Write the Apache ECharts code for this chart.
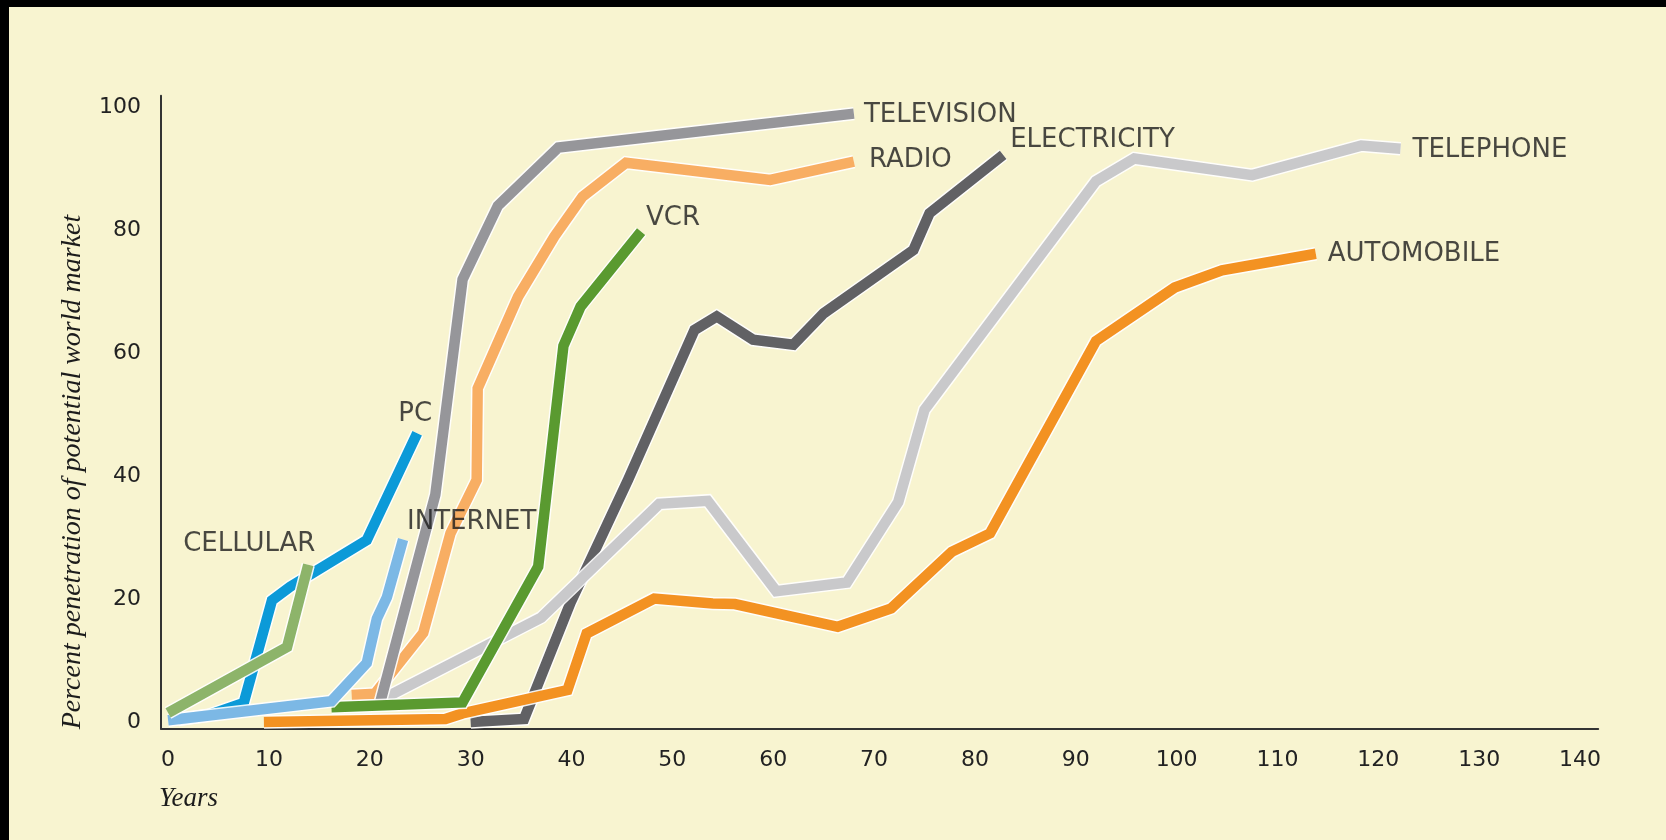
<!DOCTYPE html>
<html>
<head>
<meta charset="utf-8">
<script src="https://cdn.jsdelivr.net/npm/echarts@6/dist/echarts.min.js"></script>
<style>
html,body{margin:0;padding:0;background:#000;}
#chart{width:1666px;height:840px;}
</style>
</head>
<body>
<div id="chart"></div>
<script>
// ---- data (years since introduction, percent penetration) ----
const electricity = [[30,0],[35.3,0.5],[39.9,19.4],[45.6,39.4],[52.2,63.8],[54.4,66],[58,62.2],[62,61.4],[65,66.5],[73.9,76.8],[75.5,82.8],[82.8,92.3]];
const automobile = [[9.5,0],[27.5,0.5],[29.2,1.4],[39.6,5.2],[41.5,14.4],[48.2,20.1],[54,19.3],[56.2,19.2],[66.4,15.5],[71.7,18.5],[77.7,27.7],[81.5,30.7],[92,62],[99.8,70.7],[104.5,73.5],[113.8,76.2]];
const telephone = [[21,3.5],[37,17],[48.7,35.5],[53.5,36],[60.3,21.3],[67.3,22.7],[72.4,35.8],[75,50.8],[92,88],[95.8,91.7],[107.5,89],[118.3,93.8],[122.2,93.3]];
const radio = [[18.2,4.4],[20.5,4.6],[25.3,14.5],[28,30.7],[30.6,39.4],[30.7,54.3],[34.7,69.2],[38.3,79],[41.1,85.5],[45.4,91],[59.7,88.2],[68,91.2]];
const television = [[21,3],[26.5,37],[29.2,72],[32.7,84],[38.7,93.5],[68,99]];
const vcr = [[16.2,2.4],[29.2,3.2],[36.7,25.3],[39.2,61.2],[40.9,67.6],[46.9,79.8]];
const pc = [[1,0.4],[4,1.1],[7.5,3.1],[10.3,19.8],[12.1,22],[19.7,29.6],[24.7,47]];
const internet = [[0,0.3],[16.2,3.4],[19.7,9.6],[20.7,16.8],[21.7,20.3],[23.3,29.7]];
const cellular = [[0,1.5],[11.8,12.2],[13.9,25.6]];

const seriesNames = ['ELECTRICITY','AUTOMOBILE','TELEPHONE','RADIO','TELEVISION','VCR','PC','INTERNET','CELLULAR'];
const seriesData = [electricity, automobile, telephone, radio, television, vcr, pc, internet, cellular];

// ---- styles ----
const colors = {
  ELECTRICITY:'#616164', AUTOMOBILE:'#F39222', TELEPHONE:'#C9C9CB', RADIO:'#F8AE63',
  TELEVISION:'#96969A', VCR:'#5A9A30', PC:'#0C9AD8', INTERNET:'#7CB8E5', CELLULAR:'#8DB46A'
};
const labelPlace = {
  ELECTRICITY:{align:'left', offset:[7,-15]},
  AUTOMOBILE:{align:'left', offset:[12,1]},
  TELEPHONE:{align:'left', offset:[12,2]},
  RADIO:{align:'left', offset:[15,-1]},
  TELEVISION:{align:'left', offset:[10,2]},
  VCR:{align:'left', offset:[5,-13]},
  PC:{align:'center', offset:[-2,-19]},
  INTERNET:{align:'left', offset:[4,-17]},
  CELLULAR:{align:'center', offset:[-59,-20]}
};

const chart = echarts.init(document.getElementById('chart'), null, {renderer:'canvas'});

const series = [];
seriesNames.forEach((name, i) => {
  series.push({
    type:'line', name: name + '_halo', data: seriesData[i], showSymbol:false, symbol:'none',
    silent:true, lineStyle:{width:13.5, color:'#ffffff', opacity:0.9, join:'miter', cap:'butt'}
  });
  series.push({
    type:'line', name: name, data: seriesData[i], showSymbol:false, symbol:'none',
    silent:true, lineStyle:{width:10.5, color:colors[name], join:'miter', cap:'butt'}
  });
});
series.push({
  type:'scatter', name:'labels', symbolSize:1, silent:true, z:10,
  itemStyle:{color:'transparent'},
  data: seriesNames.map((name, i) => {
    const d = seriesData[i];
    const p = labelPlace[name];
    return {
      value: d[d.length-1], name: name,
      label:{show:true, position:'inside', formatter:name, align:p.align, verticalAlign:'middle',
        offset:p.offset, fontFamily:'DejaVu Sans', fontSize:26, color:'#1c1c1c'}
    };
  })
});

const tickFmt = v => (Math.abs(v - Math.round(v)) < 1e-6 && Math.round(v) % 10 === 0 && v >= 0) ? String(Math.round(v)) : '';

chart.setOption({
  animation:false,
  backgroundColor:'#000000',
  graphic:[
    {type:'rect', z:-100, shape:{x:9, y:7, width:1657, height:833}, style:{fill:'#F8F4D0'}},
    {type:'text', x:73, y:472, rotation:Math.PI/2, z:5,
      style:{text:'Percent penetration of potential world market', font:'italic 28px "Liberation Serif"', fill:'#1c1c1c', align:'center', verticalAlign:'middle'}},
    {type:'text', x:159, y:799, z:5,
      style:{text:'Years', font:'italic 27px "Liberation Serif"', fill:'#1c1c1c', align:'left', verticalAlign:'middle'}}
  ],
  grid:{left:161, right:67.8, top:95.8, bottom:111.2},
  xAxis:{
    type:'value', min:-0.7, max:141.8, minInterval:10, maxInterval:10, splitNumber:14,
    axisLine:{show:true, onZero:false, lineStyle:{color:'#333333', width:2}},
    axisTick:{show:false}, splitLine:{show:false},
    axisLabel:{formatter:tickFmt, margin:20, fontFamily:'DejaVu Sans', fontSize:22, color:'#222222'}
  },
  yAxis:{
    type:'value', min:-1.1, max:101.9, minInterval:20, maxInterval:20, splitNumber:5,
    axisLine:{show:true, onZero:false, lineStyle:{color:'#333333', width:2}},
    axisTick:{show:false}, splitLine:{show:false},
    axisLabel:{formatter:tickFmt, margin:20, fontFamily:'DejaVu Sans', fontSize:22, color:'#222222'}
  },
  series: series
});
</script>
</body>
</html>
